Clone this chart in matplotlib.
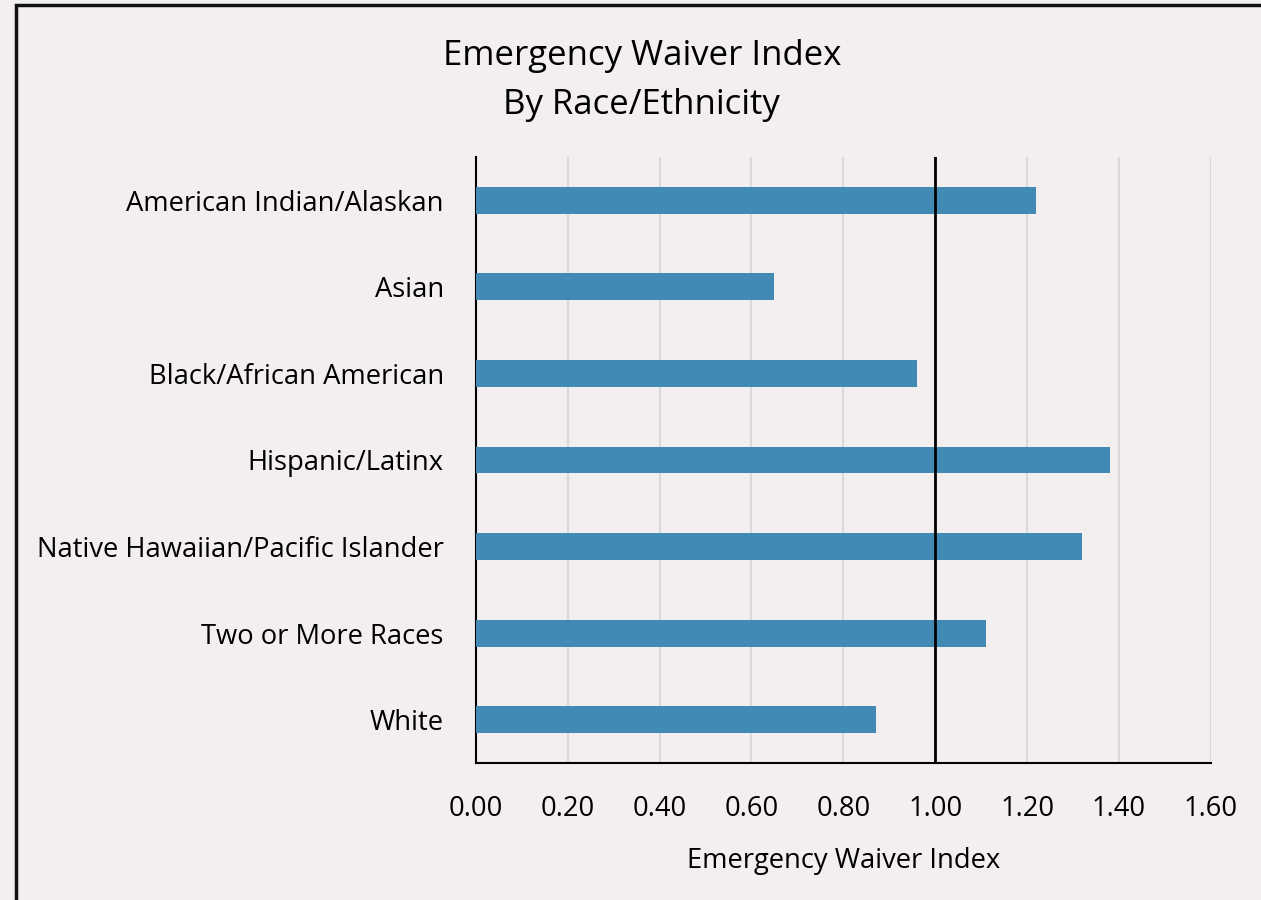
import matplotlib
matplotlib.use("Agg")
import matplotlib.pyplot as plt
from matplotlib.patches import Rectangle

categories = [
    "American Indian/Alaskan",
    "Asian",
    "Black/African American",
    "Hispanic/Latinx",
    "Native Hawaiian/Pacific Islander",
    "Two or More Races",
    "White",
]
index_values = [1.22, 0.65, 0.96, 1.38, 1.32, 1.11, 0.87]
x_ticks = [0.00, 0.20, 0.40, 0.60, 0.80, 1.00, 1.20, 1.40, 1.60]
reference_level = 1.0

BG = "#F2EFEE"
BAR = "#418AB3"
LABEL_SIZE = 19.7

plt.rcParams["font.family"] = ["Open Sans", "DejaVu Sans"]

fig = plt.figure(figsize=(12.61, 9.0), dpi=100, facecolor=BG)
ax = fig.add_axes([0.3773, 0.1522, 0.9603 - 0.3773, 0.8256 - 0.1522])
ax.set_facecolor(BG)

# outer frame (left and top edges visible, runs off the canvas on the others)
fig.patches.append(Rectangle((16 / 1261, -0.1), 1.2, 0.9939 + 0.1,
                             transform=fig.transFigure, fill=False,
                             edgecolor="#111111", linewidth=2.5, zorder=0))

ypos = list(range(len(categories)))
ax.barh(ypos, index_values, height=0.31, color=BAR, zorder=3)
ax.axvline(reference_level, color="black", linewidth=2, zorder=4)

ax.set_xlim(0, 1.6)
ax.set_ylim(len(categories) - 0.5, -0.5)
ax.set_xticks(x_ticks)
ax.set_xticklabels([f"{t:.2f}" for t in x_ticks], fontsize=LABEL_SIZE)
ax.set_yticks(ypos)
ax.set_yticklabels(categories, fontsize=LABEL_SIZE)
ax.tick_params(axis="both", length=0, colors="black")
ax.tick_params(axis="x", pad=23)
ax.tick_params(axis="y", pad=23)

ax.grid(axis="x", color="#D9D9D9", linewidth=1.5, zorder=0)
ax.set_axisbelow(True)
for side in ("top", "right"):
    ax.spines[side].set_visible(False)
for side in ("left", "bottom"):
    ax.spines[side].set_color("black")
    ax.spines[side].set_linewidth(1.5)

ax.set_xlabel("Emergency Waiver Index", fontsize=LABEL_SIZE, labelpad=17)

fig.text(0.509, 0.938, "Emergency Waiver Index", ha="center", va="center",
         fontsize=25)
fig.text(0.509, 0.883, "By Race/Ethnicity", ha="center", va="center",
         fontsize=25)

fig.savefig("out.png", dpi=100, facecolor=BG)
